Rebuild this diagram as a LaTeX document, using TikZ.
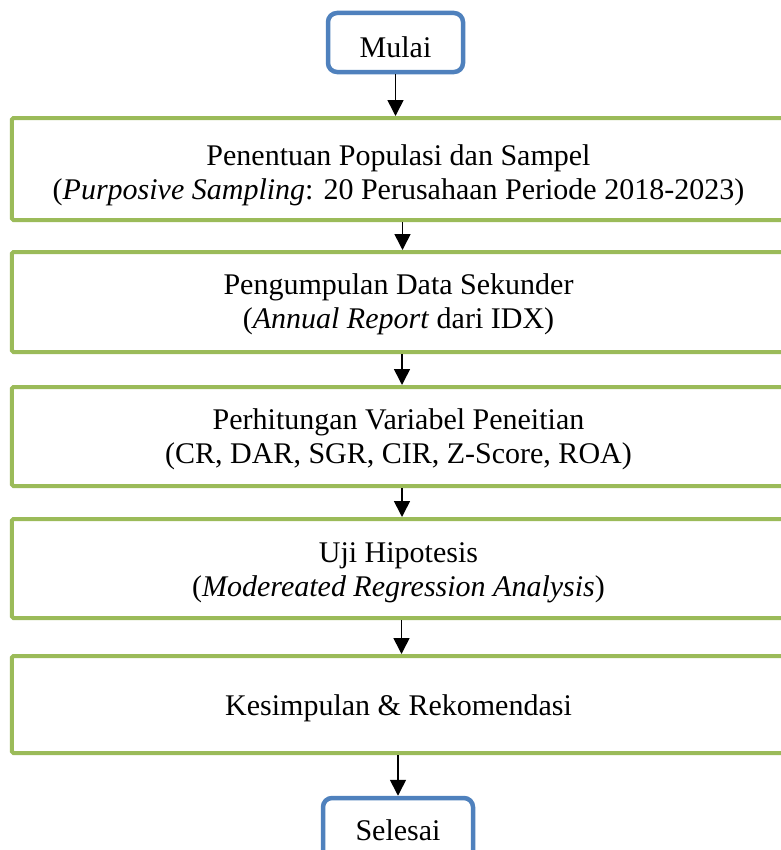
\documentclass[tikz,border=0pt]{standalone}
\usepackage{fontspec}
\setmainfont{Liberation Serif}
\usepackage{xcolor}
\usepackage{tikz}
\usetikzlibrary{arrows.meta, positioning}

\definecolor{stepgreen}{HTML}{9BBB59}
\definecolor{termblue}{HTML}{4F81BD}

% strut that pushes a text block down inside its box
\newcommand{\lowerby}[1]{\rule{0pt}{\dimexpr 21bp + 2\dimexpr #1\relax\relax}}

\begin{document}
\begin{tikzpicture}[x=1bp, y=-1bp, >={Triangle[length=16bp, width=16bp]},
    font=\fontsize{30bp}{34bp}\selectfont,
    stepbox/.style={draw=stepgreen, line width=4bp, rounded corners=1.5bp,
        minimum width=773bp, align=center, inner sep=0pt},
    termbox/.style={draw=termblue, line width=4.5bp, rounded corners=9bp,
        fill=white, align=center, inner sep=0pt},
    flow/.style={->, line width=1.6bp, black}]

\useasboundingbox (0,0) rectangle (781,850);
\clip (0,0) rectangle (781,850);

% ── Start / end terminals ─────────────────────────────────────────
\node[termbox, minimum width=135bp, minimum height=59bp,
      text height=29bp, text depth=0bp] (start) at (395.5, 42.5) {Mulai};
\node[termbox, minimum width=150bp, minimum height=64bp] (stop) at (398, 830) {Selesai};

% ── Process steps ─────────────────────────────────────────────────
\node[stepbox, minimum height=102bp] (popul) at (398.5, 169)
    {\lowerby{6bp}Penentuan Populasi dan Sampel\\(\textit{Purposive Sampling}: 20 Perusahaan Periode 2018-2023)};
\node[stepbox, minimum height=100bp] (collect) at (398.5, 302)
    {\lowerby{2bp}Pengumpulan Data Sekunder\\(\textit{Annual Report} dari IDX)};
\node[stepbox, minimum height=99bp] (calc) at (398.5, 436.5)
    {\lowerby{3bp}Perhitungan Variabel Peneitian\\(CR, DAR, SGR, CIR, Z-Score, ROA)};
\node[stepbox, minimum height=99bp] (hypo) at (398.5, 568.5)
    {\lowerby{4bp}Uji Hipotesis\\(\textit{Modereated Regression Analysis})};
\node[stepbox, minimum height=97bp] (concl) at (398.5, 704.5)
    {\lowerby{4bp}Kesimpulan \& Rekomendasi};

% arrows between steps
\draw[flow] (start.south) -- (start.south |- popul.north);
\draw[flow] ([xshift=4bp]popul.south) -- ([xshift=4bp]collect.north);
\draw[flow] ([xshift=3.5bp]collect.south) -- ([xshift=3.5bp]calc.north);
\draw[flow] ([xshift=3.5bp]calc.south) -- ([xshift=3.5bp]hypo.north);
\draw[flow] ([xshift=3bp]hypo.south) -- ([xshift=3bp]concl.north);
\draw[flow] (stop.north |- concl.south) -- (stop.north);

\end{tikzpicture}
\end{document}
